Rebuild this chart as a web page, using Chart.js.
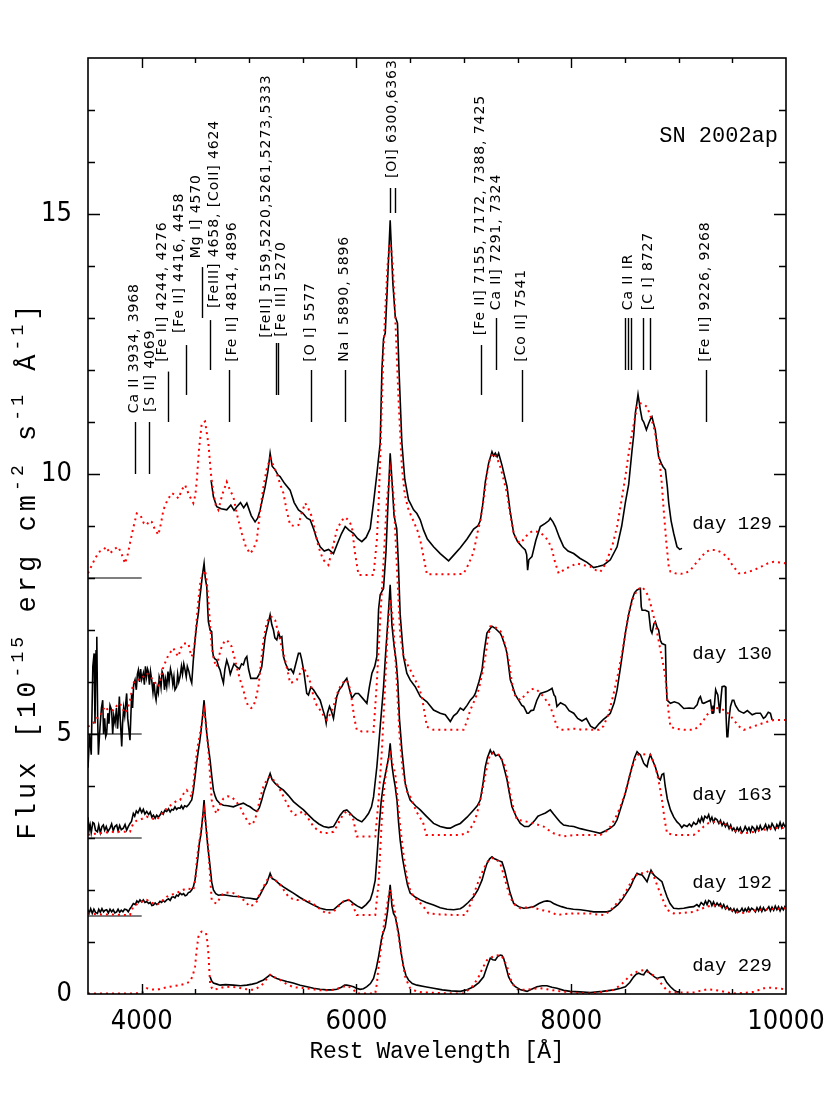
<!DOCTYPE html>
<html>
<head>
<meta charset="utf-8">
<script src="https://cdn.jsdelivr.net/npm/chart.js@4.4.0/dist/chart.umd.min.js"></script>
<style>
  html, body { margin: 0; padding: 0; background: #fff; }
  #c { display: block; }
</style>
</head>
<body>
<canvas id="c" width="830" height="1106"></canvas>
<script>
// axis setup
const xRange = [3500, 10000];
const yRange = [0, 18];
const xTickLabels = [4000, 6000, 8000, 10000];
const yTickLabels = [0, 5, 10, 15];

// zero level of each shifted spectrum, drawn as a short bar on the left
const baselineOffsets = [8, 5, 3, 1.5];
const baselineSpan = [3500, 4000];

// [wavelength (A), plotted flux] -- observed spectra (black)
const obs129 = [[4646,9.88],[4668,9.56],[4699,9.37],[4740,9.33],[4792,9.31],[4830,9.40],[4860,9.30],[4886,9.37],[4920,9.45],[4950,9.35],[4979,9.44],[5020,9.20],[5056,9.08],[5080,9.15],[5103,9.31],[5150,9.76],[5175,10.05],[5196,10.40],[5215,10.15],[5243,10.08],[5270,9.98],[5289,9.95],[5330,9.82],[5382,9.69],[5420,9.45],[5460,9.31],[5500,9.25],[5540,9.15],[5569,9.12],[5600,8.95],[5630,8.75],[5662,8.60],[5700,8.52],[5740,8.55],[5786,8.47],[5820,8.65],[5860,8.85],[5895,8.99],[5930,8.92],[5972,8.86],[6010,8.76],[6050,8.70],[6090,8.78],[6128,8.95],[6159,9.45],[6190,10.0],[6221,10.6],[6237,12.0],[6252,12.6],[6268,12.71],[6289,13.67],[6314,14.88],[6339,13.67],[6361,13.03],[6382,12.90],[6395,12.06],[6423,10.6],[6450,9.9],[6485,9.5],[6501,9.44],[6532,9.31],[6563,9.24],[6594,9.12],[6625,8.92],[6660,8.75],[6718,8.60],[6780,8.47],[6858,8.33],[6910,8.45],[6967,8.58],[7030,8.75],[7091,8.94],[7130,9.0],[7153,9.10],[7175,9.4],[7200,9.85],[7230,10.2],[7262,10.43],[7277,10.35],[7293,10.40],[7310,10.33],[7324,10.40],[7355,10.17],[7402,9.76],[7430,9.3],[7464,8.86],[7500,8.70],[7541,8.60],[7572,8.54],[7585,8.45],[7594,8.15],[7605,8.35],[7634,8.41],[7670,8.72],[7712,8.99],[7758,9.05],[7790,9.10],[7805,9.15],[7830,9.08],[7852,8.99],[7890,8.78],[7929,8.60],[7970,8.52],[8023,8.47],[8080,8.38],[8147,8.30],[8209,8.20],[8250,8.22],[8302,8.25],[8364,8.35],[8427,8.60],[8470,9.0],[8504,9.45],[8535,9.8],[8566,10.45],[8582,10.75],[8597,11.17],[8610,11.35],[8622,11.53],[8644,11.23],[8660,11.05],[8675,11.0],[8700,10.85],[8721,10.97],[8737,11.05],[8752,11.10],[8770,10.95],[8783,10.85],[8800,10.55],[8814,10.33],[8840,10.2],[8855,10.14],[8877,10.08],[8895,9.75],[8908,9.44],[8930,9.1],[8954,8.86],[8985,8.60],[9010,8.55],[9032,8.57]];

const obs130 = [[3500,4.35],[3515,5.0],[3530,4.6],[3545,6.3],[3557,6.55],[3565,5.2],[3575,6.6],[3582,6.87],[3590,5.3],[3597,4.6],[3605,4.9],[3612,5.14],[3625,5.5],[3637,5.65],[3645,5.0],[3655,5.3],[3665,4.95],[3674,5.01],[3685,5.4],[3695,5.2],[3705,5.55],[3720,5.46],[3730,5.0],[3740,5.35],[3752,5.21],[3765,5.5],[3775,5.1],[3785,5.4],[3792,5.72],[3800,5.3],[3808,5.0],[3814,4.76],[3822,5.2],[3832,5.5],[3842,5.35],[3852,5.6],[3860,5.78],[3870,5.3],[3880,5.1],[3891,4.88],[3900,5.4],[3907,5.78],[3915,5.5],[3925,5.95],[3938,6.04],[3950,5.85],[3960,6.15],[3969,6.23],[3980,6.0],[3990,6.25],[4000,6.05],[4015,6.17],[4025,5.95],[4035,6.3],[4045,6.1],[4055,6.25],[4062,6.2],[4072,5.95],[4082,6.2],[4093,6.04],[4105,5.8],[4115,6.0],[4125,5.75],[4134,5.65],[4145,5.9],[4155,5.8],[4163,6.1],[4171,6.04],[4180,5.9],[4190,6.2],[4202,6.13],[4212,5.85],[4222,6.05],[4233,5.91],[4245,6.2],[4255,6.0],[4268,6.25],[4280,6.13],[4290,5.95],[4300,6.1],[4310,5.85],[4326,5.91],[4335,6.15],[4345,6.0],[4357,6.10],[4370,6.3],[4380,6.15],[4392,6.35],[4404,6.23],[4415,6.1],[4425,6.3],[4440,6.2],[4455,6.05],[4466,5.98],[4480,6.4],[4497,6.81],[4512,7.1],[4528,7.32],[4540,7.6],[4550,7.77],[4565,8.05],[4581,8.28],[4592,8.0],[4606,7.83],[4615,7.4],[4621,7.16],[4637,7.0],[4652,6.97],[4660,6.6],[4668,6.49],[4680,6.45],[4699,6.42],[4715,6.3],[4730,6.23],[4745,6.1],[4761,5.98],[4775,6.25],[4792,6.42],[4810,6.3],[4825,6.15],[4838,6.23],[4860,6.35],[4885,6.29],[4910,6.25],[4930,6.35],[4947,6.33],[4965,6.45],[4979,6.49],[4995,6.25],[5016,6.07],[5045,6.07],[5072,6.07],[5095,6.15],[5118,6.29],[5135,6.6],[5150,6.87],[5170,7.05],[5196,7.29],[5212,7.1],[5227,7.0],[5240,6.85],[5258,6.81],[5275,6.95],[5290,6.85],[5305,6.87],[5320,6.49],[5340,6.35],[5367,6.23],[5390,6.25],[5413,6.17],[5435,6.35],[5460,6.55],[5476,6.55],[5491,6.42],[5510,6.2],[5537,5.78],[5553,5.75],[5575,5.9],[5600,5.85],[5630,5.75],[5662,5.65],[5690,5.45],[5708,5.33],[5718,5.21],[5730,5.4],[5749,5.53],[5765,5.45],[5786,5.30],[5800,5.5],[5817,5.72],[5840,5.85],[5864,5.91],[5885,6.0],[5910,6.07],[5930,5.9],[5957,5.69],[5990,5.78],[6019,5.78],[6060,5.68],[6097,5.59],[6120,5.9],[6144,6.17],[6170,6.3],[6190,6.49],[6206,7.4],[6221,7.68],[6252,7.8],[6275,8.5],[6295,9.5],[6314,10.4],[6330,9.9],[6350,9.2],[6375,8.95],[6390,8.3],[6407,7.3],[6438,6.49],[6469,6.17],[6500,6.04],[6547,5.91],[6594,5.72],[6656,5.62],[6718,5.46],[6780,5.40],[6827,5.37],[6874,5.24],[6905,5.35],[6936,5.40],[6967,5.5],[6997,5.46],[7030,5.55],[7060,5.65],[7091,5.72],[7107,5.78],[7140,6.0],[7169,6.23],[7190,6.6],[7215,6.94],[7246,7.03],[7262,7.07],[7293,7.03],[7308,7.0],[7339,6.94],[7355,6.87],[7386,6.68],[7402,6.55],[7433,6.04],[7448,5.95],[7480,5.75],[7510,5.65],[7540,5.55],[7557,5.53],[7588,5.40],[7603,5.40],[7625,5.45],[7650,5.46],[7680,5.65],[7712,5.78],[7740,5.80],[7774,5.82],[7800,5.85],[7821,5.88],[7840,5.75],[7852,5.72],[7867,5.53],[7900,5.6],[7945,5.55],[7980,5.45],[8023,5.40],[8060,5.30],[8100,5.25],[8140,5.30],[8180,5.15],[8220,5.10],[8260,5.20],[8300,5.28],[8340,5.35],[8364,5.40],[8400,5.6],[8427,5.85],[8460,6.3],[8504,6.94],[8535,7.3],[8566,7.58],[8590,7.72],[8613,7.77],[8644,7.80],[8652,7.45],[8660,7.38],[8690,7.38],[8721,7.35],[8740,7.0],[8752,6.94],[8770,7.12],[8783,7.16],[8800,7.05],[8814,7.0],[8830,6.8],[8845,6.74],[8877,6.71],[8885,6.0],[8892,5.65],[8924,5.59],[8960,5.62],[9001,5.59],[9048,5.49],[9100,5.50],[9141,5.49],[9172,5.56],[9190,5.68],[9203,5.72],[9220,5.6],[9234,5.59],[9265,5.62],[9296,5.65],[9312,5.40],[9320,5.55],[9327,5.40],[9345,5.85],[9352,5.81],[9365,5.75],[9383,5.40],[9395,5.7],[9405,5.91],[9425,5.92],[9436,5.91],[9441,5.4],[9450,4.95],[9458,4.95],[9470,5.3],[9483,5.53],[9500,5.65],[9514,5.65],[9530,5.55],[9560,5.45],[9585,5.42],[9607,5.40],[9640,5.45],[9685,5.37],[9720,5.40],[9762,5.40],[9790,5.30],[9808,5.33],[9835,5.42],[9855,5.40],[9871,5.27]];

const obs163 = [[3500,3.40],[3510,3.15],[3520,3.25],[3530,3.1],[3545,3.3],[3557,3.28],[3570,3.15],[3588,3.12],[3600,3.25],[3615,3.1],[3630,3.22],[3643,3.25],[3655,3.15],[3670,3.22],[3685,3.12],[3705,3.19],[3720,3.27],[3735,3.14],[3750,3.22],[3767,3.25],[3780,3.14],[3795,3.24],[3810,3.16],[3829,3.19],[3845,3.26],[3860,3.15],[3875,3.22],[3891,3.28],[3905,3.32],[3922,3.47],[3935,3.42],[3950,3.52],[3965,3.48],[3984,3.57],[4000,3.49],[4015,3.55],[4030,3.46],[4047,3.51],[4065,3.45],[4080,3.50],[4095,3.40],[4109,3.44],[4125,3.38],[4140,3.44],[4155,3.40],[4171,3.44],[4185,3.5],[4200,3.46],[4215,3.53],[4233,3.51],[4250,3.56],[4265,3.5],[4280,3.55],[4295,3.54],[4310,3.6],[4325,3.55],[4340,3.58],[4357,3.57],[4370,3.62],[4385,3.56],[4400,3.62],[4419,3.60],[4440,3.65],[4455,3.7],[4466,3.73],[4480,3.9],[4497,4.18],[4512,4.45],[4528,4.69],[4540,4.85],[4550,5.01],[4565,5.3],[4581,5.65],[4592,5.35],[4606,5.01],[4621,4.75],[4637,4.5],[4652,4.2],[4668,3.92],[4685,3.8],[4699,3.73],[4730,3.66],[4761,3.63],[4800,3.62],[4854,3.60],[4900,3.64],[4947,3.67],[4980,3.63],[5009,3.60],[5040,3.55],[5072,3.51],[5095,3.58],[5118,3.73],[5140,3.9],[5165,4.05],[5180,4.15],[5196,4.24],[5215,4.12],[5243,4.05],[5280,3.98],[5320,3.92],[5365,3.82],[5413,3.70],[5460,3.62],[5507,3.54],[5550,3.45],[5600,3.35],[5650,3.27],[5693,3.22],[5740,3.2],[5786,3.22],[5815,3.32],[5848,3.44],[5880,3.52],[5910,3.54],[5940,3.48],[5972,3.41],[6010,3.35],[6050,3.31],[6080,3.38],[6112,3.47],[6140,3.6],[6159,3.79],[6190,4.37],[6221,5.14],[6252,5.9],[6270,6.5],[6290,7.1],[6314,7.87],[6330,7.1],[6350,6.7],[6370,6.4],[6385,6.0],[6400,5.3],[6423,4.69],[6454,4.05],[6480,3.85],[6500,3.73],[6550,3.62],[6594,3.54],[6650,3.42],[6718,3.28],[6780,3.22],[6843,3.19],[6874,3.19],[6920,3.24],[6967,3.28],[7030,3.40],[7091,3.54],[7125,3.62],[7153,3.73],[7175,4.0],[7200,4.37],[7220,4.55],[7246,4.69],[7262,4.62],[7277,4.66],[7295,4.58],[7324,4.60],[7340,4.55],[7355,4.50],[7380,4.3],[7402,4.12],[7425,3.85],[7448,3.60],[7490,3.4],[7526,3.28],[7565,3.22],[7603,3.22],[7635,3.28],[7665,3.35],[7690,3.42],[7712,3.44],[7760,3.48],[7805,3.54],[7835,3.46],[7867,3.38],[7900,3.3],[7929,3.25],[7980,3.23],[8023,3.22],[8085,3.18],[8147,3.15],[8210,3.12],[8271,3.09],[8320,3.14],[8364,3.19],[8400,3.25],[8427,3.35],[8465,3.6],[8504,3.86],[8535,4.12],[8566,4.37],[8590,4.55],[8613,4.66],[8630,4.62],[8644,4.60],[8660,4.52],[8675,4.44],[8690,4.40],[8706,4.37],[8720,4.5],[8737,4.60],[8760,4.48],[8783,4.37],[8800,4.25],[8815,4.15],[8830,4.12],[8845,4.22],[8861,4.24],[8875,4.0],[8895,3.75],[8924,3.54],[8955,3.4],[8985,3.31],[9010,3.26],[9030,3.2],[9050,3.25],[9079,3.22],[9100,3.27],[9120,3.22],[9140,3.30],[9160,3.26],[9172,3.28],[9185,3.36],[9200,3.30],[9215,3.40],[9230,3.32],[9245,3.42],[9265,3.38],[9280,3.45],[9295,3.33],[9310,3.40],[9325,3.30],[9340,3.38],[9358,3.35],[9375,3.28],[9390,3.34],[9405,3.24],[9420,3.30],[9436,3.22],[9452,3.28],[9470,3.18],[9485,3.25],[9500,3.15],[9514,3.19],[9530,3.12],[9545,3.2],[9560,3.14],[9575,3.2],[9590,3.1],[9607,3.15],[9620,3.22],[9640,3.14],[9655,3.2],[9670,3.12],[9685,3.22],[9700,3.19],[9715,3.12],[9730,3.22],[9745,3.15],[9760,3.24],[9775,3.16],[9793,3.19],[9810,3.26],[9825,3.16],[9840,3.24],[9855,3.18],[9870,3.28],[9886,3.22],[9900,3.16],[9915,3.26],[9930,3.2],[9945,3.3],[9960,3.2],[9975,3.28],[9990,3.22],[10000,3.25]];

const obs192 = [[3500,1.62],[3512,1.56],[3525,1.64],[3540,1.55],[3555,1.63],[3570,1.57],[3588,1.55],[3600,1.63],[3615,1.57],[3630,1.64],[3645,1.58],[3660,1.61],[3674,1.62],[3690,1.56],[3705,1.63],[3720,1.58],[3735,1.62],[3750,1.56],[3767,1.58],[3780,1.63],[3795,1.57],[3810,1.61],[3825,1.58],[3840,1.63],[3860,1.62],[3875,1.58],[3891,1.64],[3905,1.68],[3922,1.74],[3940,1.72],[3955,1.79],[3970,1.76],[3984,1.81],[4000,1.77],[4015,1.81],[4030,1.76],[4047,1.78],[4065,1.74],[4080,1.76],[4095,1.70],[4109,1.71],[4125,1.75],[4140,1.72],[4155,1.74],[4170,1.78],[4185,1.76],[4200,1.8],[4215,1.77],[4233,1.81],[4250,1.83],[4265,1.8],[4280,1.86],[4295,1.87],[4310,1.85],[4325,1.9],[4340,1.88],[4357,1.94],[4375,1.91],[4390,1.93],[4405,1.89],[4419,1.90],[4435,1.95],[4450,1.96],[4465,2.0],[4481,2.06],[4497,2.2],[4513,2.45],[4525,2.65],[4537,2.90],[4550,3.05],[4559,3.22],[4572,3.5],[4581,3.73],[4590,3.45],[4599,3.22],[4615,2.85],[4637,2.45],[4652,2.15],[4668,2.0],[4690,1.93],[4714,1.90],[4750,1.91],[4792,1.90],[4850,1.88],[4916,1.87],[4960,1.85],[5009,1.84],[5040,1.83],[5072,1.82],[5095,1.88],[5118,1.97],[5140,2.06],[5165,2.13],[5180,2.22],[5196,2.32],[5215,2.22],[5243,2.19],[5280,2.12],[5320,2.06],[5365,2.0],[5413,1.94],[5470,1.86],[5537,1.78],[5600,1.71],[5662,1.65],[5720,1.62],[5786,1.62],[5830,1.70],[5879,1.78],[5926,1.81],[5950,1.78],[5972,1.74],[6010,1.69],[6050,1.65],[6090,1.72],[6128,1.81],[6150,1.95],[6175,2.19],[6190,2.6],[6206,3.09],[6230,3.7],[6252,4.05],[6283,4.37],[6300,4.55],[6314,4.82],[6330,4.4],[6345,4.18],[6360,4.0],[6377,3.73],[6392,3.3],[6407,2.96],[6430,2.6],[6454,2.32],[6475,2.1],[6500,1.94],[6550,1.86],[6594,1.81],[6650,1.76],[6718,1.71],[6780,1.66],[6843,1.63],[6905,1.62],[6967,1.64],[6997,1.68],[7040,1.76],[7091,1.87],[7130,2.0],[7169,2.19],[7195,2.38],[7215,2.51],[7240,2.60],[7262,2.64],[7285,2.6],[7308,2.58],[7330,2.56],[7355,2.54],[7380,2.38],[7402,2.19],[7430,1.95],[7464,1.74],[7510,1.68],[7557,1.65],[7600,1.66],[7650,1.68],[7700,1.74],[7743,1.78],[7775,1.79],[7805,1.78],[7835,1.74],[7867,1.71],[7910,1.68],[7960,1.65],[8020,1.63],[8085,1.62],[8150,1.60],[8209,1.58],[8270,1.58],[8333,1.58],[8365,1.6],[8395,1.65],[8435,1.72],[8473,1.81],[8510,1.93],[8551,2.06],[8580,2.2],[8613,2.32],[8635,2.30],[8660,2.29],[8685,2.22],[8706,2.16],[8725,2.28],[8743,2.38],[8765,2.3],[8783,2.26],[8810,2.22],[8845,2.16],[8870,2.0],[8892,1.87],[8920,1.74],[8954,1.65],[9000,1.64],[9048,1.65],[9100,1.67],[9141,1.68],[9170,1.72],[9190,1.68],[9210,1.76],[9234,1.71],[9250,1.79],[9265,1.72],[9280,1.8],[9296,1.78],[9310,1.70],[9325,1.77],[9340,1.69],[9358,1.75],[9375,1.70],[9390,1.74],[9405,1.66],[9420,1.72],[9436,1.64],[9452,1.69],[9470,1.62],[9483,1.65],[9500,1.59],[9515,1.64],[9530,1.57],[9545,1.63],[9560,1.58],[9576,1.60],[9590,1.65],[9605,1.58],[9620,1.64],[9635,1.59],[9650,1.66],[9665,1.6],[9680,1.65],[9700,1.62],[9715,1.58],[9730,1.66],[9745,1.6],[9760,1.67],[9775,1.59],[9790,1.66],[9805,1.6],[9824,1.63],[9840,1.68],[9855,1.6],[9870,1.67],[9885,1.61],[9900,1.69],[9915,1.62],[9930,1.68],[9945,1.6],[9960,1.67],[9975,1.62],[9990,1.68],[10000,1.65]];

const obs229 = [[4637,0.33],[4652,0.25],[4668,0.21],[4700,0.19],[4730,0.17],[4780,0.18],[4854,0.17],[4920,0.16],[4979,0.17],[5030,0.19],[5072,0.21],[5100,0.24],[5134,0.27],[5165,0.32],[5196,0.37],[5225,0.33],[5258,0.30],[5300,0.27],[5351,0.24],[5410,0.21],[5476,0.17],[5540,0.14],[5600,0.11],[5660,0.09],[5724,0.08],[5770,0.08],[5817,0.09],[5860,0.13],[5890,0.17],[5910,0.17],[5940,0.16],[5972,0.14],[6000,0.11],[6034,0.09],[6065,0.1],[6097,0.14],[6130,0.2],[6159,0.30],[6185,0.5],[6206,0.72],[6237,1.10],[6268,1.29],[6290,1.6],[6314,2.10],[6330,1.7],[6345,1.55],[6361,1.49],[6375,1.35],[6392,1.17],[6415,0.8],[6438,0.53],[6460,0.36],[6485,0.27],[6520,0.2],[6563,0.17],[6640,0.14],[6718,0.11],[6800,0.08],[6880,0.06],[6967,0.05],[7030,0.08],[7091,0.14],[7140,0.22],[7184,0.33],[7215,0.52],[7246,0.69],[7270,0.66],[7293,0.65],[7315,0.72],[7339,0.75],[7355,0.74],[7370,0.69],[7395,0.5],[7417,0.33],[7445,0.22],[7479,0.14],[7530,0.08],[7588,0.05],[7630,0.09],[7681,0.14],[7730,0.16],[7774,0.16],[7820,0.13],[7867,0.11],[7930,0.07],[7991,0.05],[8080,0.04],[8178,0.03],[8290,0.05],[8395,0.08],[8460,0.11],[8504,0.14],[8545,0.22],[8582,0.33],[8605,0.38],[8628,0.40],[8650,0.38],[8675,0.37],[8690,0.42],[8706,0.46],[8730,0.40],[8752,0.37],[8775,0.33],[8799,0.30],[8830,0.32],[8861,0.33],[8890,0.22],[8924,0.14],[8955,0.08],[8985,0.04],[9005,0.04]];

// model spectra (red dotted)
const mod129 = [[3500,8.09],[3560,8.35],[3600,8.5],[3643,8.54],[3670,8.6],[3705,8.47],[3740,8.55],[3782,8.60],[3815,8.45],[3845,8.28],[3870,8.45],[3891,8.67],[3920,8.95],[3954,9.24],[3990,9.20],[4020,9.05],[4047,9.02],[4070,9.10],[4093,9.08],[4120,8.95],[4155,8.83],[4180,9.05],[4202,9.31],[4240,9.50],[4280,9.63],[4310,9.60],[4342,9.53],[4375,9.70],[4404,9.79],[4440,9.60],[4481,9.44],[4500,9.6],[4513,9.88],[4535,10.5],[4559,10.97],[4590,11.01],[4621,10.59],[4645,10.0],[4668,9.63],[4690,9.40],[4714,9.31],[4750,9.6],[4792,9.85],[4820,9.70],[4854,9.56],[4890,9.2],[4932,8.86],[4970,8.6],[5009,8.47],[5040,8.55],[5072,8.73],[5100,9.25],[5134,9.76],[5165,10.1],[5196,10.3],[5230,10.15],[5258,10.01],[5290,9.80],[5320,9.63],[5350,9.3],[5382,9.02],[5420,9.0],[5460,9.02],[5490,9.25],[5522,9.44],[5550,9.35],[5584,9.18],[5615,8.9],[5646,8.60],[5690,8.35],[5739,8.25],[5780,8.6],[5817,8.92],[5860,9.1],[5895,9.17],[5930,9.1],[5957,8.99],[5985,8.5],[6019,8.06],[6100,8.06],[6159,8.06],[6190,8.73],[6206,9.4],[6221,10.3],[6237,11.4],[6252,12.4],[6268,13.15],[6289,13.99],[6308,14.44],[6325,14.3],[6339,13.99],[6361,13.03],[6392,11.42],[6423,10.14],[6450,9.6],[6485,9.31],[6530,9.1],[6570,8.9],[6594,8.73],[6630,8.35],[6656,8.07],[6720,8.07],[6800,8.07],[6900,8.07],[6997,8.08],[7040,8.25],[7091,8.50],[7130,8.9],[7153,9.1],[7184,9.5],[7215,10.0],[7246,10.33],[7277,10.40],[7310,10.3],[7339,10.14],[7370,9.9],[7402,9.63],[7430,9.25],[7464,8.86],[7495,8.72],[7526,8.67],[7560,8.75],[7603,8.86],[7640,8.9],[7681,8.89],[7720,8.86],[7758,8.79],[7790,8.7],[7821,8.54],[7850,8.3],[7883,8.09],[7920,8.14],[7960,8.19],[8000,8.23],[8054,8.28],[8110,8.25],[8178,8.22],[8230,8.15],[8271,8.12],[8300,8.2],[8333,8.35],[8380,8.6],[8427,8.99],[8465,9.45],[8504,9.95],[8535,10.4],[8566,10.78],[8590,11.05],[8613,11.29],[8644,11.36],[8675,11.34],[8706,11.29],[8740,11.1],[8768,10.91],[8790,10.7],[8814,10.40],[8840,9.9],[8861,9.31],[8885,8.7],[8908,8.22],[8924,8.12],[8970,8.09],[9020,8.08],[9060,8.09],[9110,8.15],[9160,8.28],[9203,8.38],[9250,8.50],[9300,8.54],[9343,8.54],[9390,8.50],[9452,8.41],[9500,8.25],[9560,8.09],[9620,8.10],[9700,8.15],[9770,8.22],[9830,8.28],[9886,8.31],[9940,8.30],[10000,8.28]];

const mod130 = [[3500,5.14],[3549,5.21],[3580,5.30],[3612,5.33],[3635,5.45],[3658,5.53],[3690,5.45],[3736,5.46],[3770,5.55],[3798,5.59],[3820,5.5],[3845,5.40],[3870,5.5],[3891,5.65],[3922,5.98],[3950,6.05],[3984,6.04],[4015,6.10],[4047,6.17],[4080,6.1],[4109,6.04],[4135,5.95],[4155,5.91],[4180,6.1],[4202,6.29],[4249,6.52],[4295,6.65],[4320,6.55],[4342,6.49],[4365,6.65],[4388,6.74],[4435,6.74],[4450,6.6],[4466,6.49],[4482,6.6],[4497,6.81],[4512,7.2],[4528,7.58],[4545,7.9],[4559,8.03],[4590,8.15],[4605,7.95],[4621,7.58],[4637,7.1],[4652,6.68],[4675,6.4],[4699,6.29],[4720,6.5],[4745,6.68],[4770,6.78],[4792,6.81],[4815,6.75],[4838,6.68],[4860,6.5],[4885,6.29],[4915,6.05],[4947,5.85],[4970,5.65],[4994,5.53],[5020,5.5],[5040,5.53],[5065,5.7],[5087,5.91],[5110,6.35],[5134,6.81],[5165,7.15],[5196,7.26],[5220,7.25],[5243,7.19],[5265,7.0],[5289,6.81],[5312,6.6],[5336,6.42],[5360,6.2],[5382,5.98],[5410,6.0],[5444,6.04],[5476,6.17],[5507,6.29],[5537,6.15],[5569,6.0],[5600,5.72],[5630,5.55],[5662,5.46],[5695,5.35],[5724,5.27],[5755,5.38],[5786,5.53],[5815,5.75],[5848,5.91],[5880,6.0],[5910,6.04],[5935,5.9],[5957,5.65],[5980,5.3],[6003,5.08],[6050,5.05],[6100,5.05],[6159,5.04],[6190,6.0],[6221,7.2],[6252,8.3],[6283,9.5],[6314,10.1],[6345,9.6],[6377,8.2],[6407,6.9],[6438,6.5],[6469,6.36],[6510,6.2],[6547,6.04],[6580,5.9],[6609,5.72],[6635,5.4],[6656,5.14],[6718,5.08],[6800,5.08],[6900,5.08],[6997,5.08],[7030,5.25],[7060,5.46],[7100,5.65],[7138,5.85],[7170,6.15],[7200,6.49],[7225,6.85],[7246,7.07],[7275,7.08],[7308,7.03],[7330,7.0],[7355,6.94],[7385,6.7],[7417,6.42],[7440,6.1],[7464,5.78],[7495,5.7],[7526,5.65],[7570,5.75],[7619,5.85],[7650,5.87],[7681,5.85],[7712,5.78],[7743,5.72],[7775,5.62],[7805,5.53],[7835,5.35],[7867,5.14],[7900,5.08],[7950,5.08],[8000,5.1],[8050,5.1],[8100,5.08],[8150,5.09],[8200,5.08],[8260,5.08],[8300,5.15],[8350,5.4],[8395,5.78],[8435,6.15],[8473,6.55],[8505,6.95],[8535,7.32],[8575,7.6],[8613,7.77],[8660,7.83],[8690,7.75],[8721,7.64],[8745,7.45],[8768,7.26],[8800,6.95],[8830,6.62],[8855,6.35],[8877,6.10],[8893,5.7],[8908,5.40],[8924,5.14],[8970,5.1],[9050,5.08],[9141,5.08],[9190,5.15],[9234,5.27],[9270,5.38],[9312,5.46],[9350,5.5],[9390,5.49],[9430,5.45],[9470,5.38],[9514,5.27],[9560,5.15],[9607,5.08],[9660,5.12],[9731,5.17],[9800,5.22],[9886,5.27],[9940,5.27],[10000,5.27]];

const mod163 = [[3500,3.06],[3560,3.08],[3612,3.09],[3680,3.11],[3736,3.12],[3800,3.12],[3860,3.12],[3891,3.12],[3905,3.2],[3922,3.28],[3950,3.33],[3984,3.35],[4015,3.38],[4047,3.41],[4090,3.38],[4140,3.35],[4170,3.42],[4202,3.51],[4250,3.6],[4295,3.67],[4330,3.72],[4357,3.73],[4390,3.85],[4419,3.92],[4445,3.85],[4466,3.79],[4480,4.0],[4497,4.37],[4520,4.75],[4544,5.01],[4565,5.3],[4581,5.46],[4600,5.15],[4621,4.69],[4637,4.2],[4652,3.73],[4675,3.55],[4699,3.47],[4730,3.65],[4761,3.76],[4800,3.8],[4838,3.79],[4880,3.7],[4916,3.60],[4950,3.45],[4979,3.35],[5000,3.28],[5025,3.25],[5050,3.33],[5072,3.47],[5100,3.75],[5134,3.99],[5165,4.12],[5196,4.18],[5225,4.12],[5258,4.05],[5300,3.88],[5351,3.67],[5390,3.52],[5429,3.44],[5470,3.48],[5507,3.51],[5550,3.38],[5600,3.22],[5650,3.13],[5693,3.09],[5740,3.1],[5786,3.12],[5815,3.22],[5848,3.35],[5880,3.47],[5910,3.51],[5940,3.45],[5972,3.35],[5990,3.15],[6003,3.03],[6100,3.03],[6175,3.03],[6206,3.73],[6237,4.69],[6268,6.0],[6290,7.0],[6314,7.6],[6340,7.2],[6370,6.2],[6400,5.0],[6430,4.3],[6469,3.9],[6500,3.8],[6560,3.5],[6620,3.3],[6650,3.06],[6750,3.06],[6850,3.06],[6967,3.06],[7029,3.09],[7060,3.18],[7091,3.28],[7120,3.45],[7153,3.73],[7185,4.05],[7215,4.37],[7240,4.58],[7262,4.63],[7295,4.62],[7324,4.60],[7355,4.5],[7386,4.37],[7410,4.12],[7433,3.83],[7465,3.55],[7495,3.35],[7557,3.33],[7650,3.28],[7743,3.22],[7790,3.15],[7836,3.09],[7929,3.03],[8000,3.05],[8085,3.06],[8180,3.06],[8271,3.06],[8320,3.12],[8364,3.22],[8410,3.38],[8458,3.60],[8500,3.85],[8535,4.12],[8565,4.35],[8597,4.53],[8620,4.6],[8644,4.60],[8690,4.61],[8737,4.60],[8770,4.45],[8799,4.24],[8825,3.98],[8845,3.73],[8870,3.35],[8892,3.09],[8954,3.06],[9050,3.06],[9141,3.06],[9190,3.14],[9234,3.22],[9280,3.29],[9327,3.31],[9375,3.3],[9420,3.28],[9470,3.22],[9514,3.15],[9560,3.11],[9607,3.09],[9680,3.11],[9762,3.15],[9830,3.17],[9886,3.19],[10000,3.19]];

const mod192 = [[3500,1.55],[3600,1.53],[3700,1.53],[3800,1.52],[3891,1.52],[3905,1.6],[3922,1.68],[3980,1.76],[4047,1.81],[4090,1.76],[4140,1.71],[4185,1.78],[4233,1.87],[4280,1.91],[4326,1.94],[4370,1.99],[4419,2.03],[4450,2.02],[4481,2.0],[4500,2.2],[4513,2.58],[4530,2.85],[4550,3.09],[4565,3.35],[4581,3.54],[4600,3.2],[4621,2.77],[4637,2.25],[4652,1.81],[4675,1.76],[4699,1.74],[4730,1.85],[4761,1.94],[4810,1.95],[4854,1.94],[4900,1.88],[4947,1.81],[4980,1.74],[5009,1.68],[5040,1.72],[5072,1.78],[5100,1.93],[5134,2.06],[5165,2.18],[5196,2.26],[5240,2.2],[5289,2.10],[5330,1.98],[5367,1.87],[5405,1.83],[5444,1.81],[5490,1.81],[5537,1.81],[5585,1.75],[5631,1.68],[5680,1.6],[5724,1.55],[5786,1.58],[5830,1.68],[5879,1.78],[5926,1.81],[5955,1.74],[5972,1.68],[5990,1.58],[6003,1.52],[6100,1.52],[6175,1.52],[6206,2.13],[6237,3.41],[6260,4.0],[6283,4.37],[6300,4.55],[6314,4.63],[6340,4.4],[6361,4.24],[6385,3.7],[6407,3.22],[6440,2.65],[6469,2.26],[6500,2.0],[6532,1.87],[6580,1.78],[6625,1.68],[6650,1.6],[6671,1.55],[6780,1.53],[6900,1.52],[7013,1.52],[7040,1.62],[7075,1.81],[7115,2.05],[7153,2.26],[7195,2.45],[7231,2.58],[7260,2.61],[7293,2.61],[7339,2.51],[7370,2.3],[7402,2.06],[7435,1.85],[7464,1.74],[7495,1.68],[7526,1.65],[7570,1.66],[7619,1.68],[7665,1.65],[7712,1.62],[7760,1.6],[7805,1.58],[7867,1.52],[7940,1.54],[8023,1.55],[8100,1.55],[8178,1.55],[8240,1.53],[8302,1.52],[8350,1.58],[8395,1.68],[8440,1.78],[8489,1.90],[8530,2.05],[8566,2.19],[8600,2.28],[8628,2.32],[8660,2.32],[8690,2.32],[8715,2.36],[8737,2.38],[8760,2.3],[8783,2.19],[8805,2.06],[8830,1.94],[8860,1.78],[8892,1.62],[8954,1.55],[9050,1.56],[9141,1.58],[9200,1.63],[9265,1.68],[9310,1.70],[9358,1.71],[9420,1.67],[9483,1.62],[9530,1.58],[9576,1.55],[9650,1.58],[9700,1.6],[9762,1.62],[9850,1.63],[9930,1.64],[10000,1.65]];

const mod229 = [[3500,0.01],[3700,0.01],[3900,0.01],[4000,0.02],[4047,0.11],[4090,0.09],[4140,0.08],[4190,0.11],[4233,0.13],[4290,0.15],[4357,0.17],[4410,0.2],[4450,0.24],[4475,0.35],[4497,0.53],[4512,0.85],[4528,1.10],[4545,1.18],[4559,1.20],[4580,1.19],[4599,1.17],[4612,1.0],[4621,0.78],[4630,0.45],[4637,0.21],[4652,0.12],[4668,0.08],[4710,0.1],[4761,0.13],[4820,0.14],[4885,0.13],[4930,0.11],[4979,0.09],[5040,0.08],[5080,0.12],[5118,0.17],[5160,0.28],[5196,0.37],[5240,0.32],[5289,0.27],[5350,0.19],[5413,0.13],[5475,0.12],[5537,0.11],[5600,0.09],[5662,0.07],[5720,0.07],[5786,0.08],[5850,0.12],[5910,0.16],[5940,0.13],[5972,0.08],[5990,0.04],[6003,0.01],[6100,0.01],[6175,0.01],[6190,0.2],[6206,0.53],[6237,1.03],[6260,1.4],[6283,1.68],[6300,1.9],[6314,2.01],[6335,1.8],[6361,1.55],[6385,1.2],[6407,0.91],[6430,0.6],[6454,0.33],[6480,0.2],[6500,0.11],[6560,0.05],[6625,0.03],[6750,0.02],[6900,0.01],[6997,0.01],[7035,0.07],[7075,0.14],[7105,0.22],[7138,0.33],[7175,0.5],[7215,0.65],[7250,0.70],[7277,0.72],[7310,0.74],[7339,0.75],[7370,0.68],[7402,0.53],[7425,0.36],[7448,0.21],[7480,0.12],[7510,0.08],[7588,0.08],[7650,0.1],[7712,0.11],[7775,0.09],[7836,0.07],[7900,0.05],[7960,0.04],[8070,0.02],[8178,0.01],[8290,0.04],[8395,0.08],[8458,0.17],[8500,0.25],[8535,0.33],[8575,0.39],[8613,0.43],[8645,0.45],[8675,0.46],[8705,0.43],[8737,0.40],[8770,0.35],[8799,0.30],[8830,0.22],[8861,0.14],[8892,0.07],[8924,0.03],[9000,0.03],[9070,0.03],[9141,0.03],[9200,0.06],[9265,0.09],[9330,0.08],[9390,0.06],[9450,0.03],[9514,0.01],[9600,0.02],[9700,0.04],[9750,0.08],[9793,0.11],[9850,0.12],[9917,0.11],[9960,0.1],[10000,0.08]];

// epoch labels: text, flux level of the label
const epochNames = ['day 129', 'day 130', 'day 163', 'day 192', 'day 229'];
const epochLabelFlux = [9.04, 6.54, 3.83, 2.13, 0.53];

// line identifications: text, marker wavelengths, marker flux range, label wavelength, label bottom flux
const lineIds = [
  ['Ca II 3934, 3968', [3934], 10.0, 11.0, 3934, 11.17],
  ['[S II] 4069', [4068], 10.0, 11.0, 4080, 11.19],
  ['[Fe II] 4244, 4276', [4243], 11.0, 11.97, 4190, 12.16],
  ['[Fe II] 4416, 4458', [4413], 11.52, 12.48, 4348, 12.71],
  ['Mg I] 4570', [4565], 13.0, 13.98, 4506, 14.15],
  ['[FeIII] 4658, [CoII] 4624', [4637], 12.0, 12.96, 4674, 13.19],
  ['[Fe II] 4814, 4896', [4814], 11.0, 12.0, 4847, 12.16],
  ['[FeII] 5159,5220,5261,5273,5333', [], 0, 0, 5165, 12.62],
  ['[Fe III] 5270', [5252, 5273], 11.52, 12.52, 5303, 12.64],
  ['[O I] 5577', [5575], 11.0, 12.0, 5569, 12.16],
  ['Na I 5890, 5896', [5895], 11.0, 12.0, 5886, 12.16],
  ['[OI] 6300,6363', [6308, 6361], 15.02, 15.5, 6338, 15.69],
  ['[Fe II] 7155, 7172, 7388, 7425', [7159], 11.52, 12.48, 7153, 12.67],
  ['Ca II] 7291, 7324', [7302], 12.0, 13.0, 7302, 13.15],
  ['[Co II] 7541', [7542], 11.0, 12.0, 7535, 12.16],
  ['Ca II IR', [8498, 8529, 8557], 12.0, 13.0, 8532, 13.15],
  ['[C I] 8727', [8669, 8731], 12.0, 13.0, 8719, 13.15],
  ['[Fe II] 9226, 9268', [9256], 11.0, 12.0, 9250, 12.16]
];

const objectName = 'SN 2002ap';

const narrow = "'Liberation Sans Narrow', 'DejaVu Sans Condensed', 'Liberation Sans', sans-serif";
const mono = "'Liberation Mono', 'DejaVu Sans Mono', monospace";

function toXY(pairs) {
  return pairs.map(p => ({ x: p[0], y: p[1] }));
}

const observed = [obs129, obs130, obs163, obs192, obs229];
const models = [mod129, mod130, mod163, mod192, mod229];

const datasets = [];
// models first so the dots sit on top of the black curves
models.forEach(m => datasets.push({
  data: toXY(m), borderColor: '#ff0000', borderWidth: 2, borderDash: [2, 4], borderCapStyle: 'butt'
}));
observed.forEach(o => datasets.push({
  data: toXY(o), borderColor: '#000000', borderWidth: 1.6
}));
baselineOffsets.forEach(b => datasets.push({
  data: baselineSpan.map(v => ({ x: v, y: b })), borderColor: '#000000', borderWidth: 1.2
}));

// inside tick marks on all four sides plus the frame
const framePlugin = {
  id: 'frame',
  afterDatasetsDraw(chart) {
    const { ctx, chartArea: a, scales: { x, y } } = chart;
    ctx.save();
    ctx.strokeStyle = '#000';
    ctx.lineWidth = 1.4;
    ctx.beginPath();
    for (let v = xRange[0] + 500; v < xRange[1]; v += 500) {
      const px = Math.round(x.getPixelForValue(v)) + 0.5;
      const len = v % 2000 === 0 ? 10 : 5;
      ctx.moveTo(px, a.bottom); ctx.lineTo(px, a.bottom - len);
      ctx.moveTo(px, a.top); ctx.lineTo(px, a.top + len);
    }
    for (let v = yRange[0] + 1; v < yRange[1]; v++) {
      const py = Math.round(y.getPixelForValue(v)) + 0.5;
      const len = v % 5 === 0 ? 12 : 7;
      ctx.moveTo(a.left, py); ctx.lineTo(a.left + len, py);
      ctx.moveTo(a.right, py); ctx.lineTo(a.right - len, py);
    }
    ctx.stroke();
    ctx.lineWidth = 1.6;
    ctx.strokeRect(a.left, a.top, a.right - a.left, a.bottom - a.top);
    ctx.restore();
  }
};

// draw text spread out (letter spacing) so that it spans the given length
function spreadText(ctx, parts, length) {
  let natural = 0, count = 0;
  parts.forEach(p => { ctx.font = p.font; natural += ctx.measureText(p.t).width; count += p.t.length; });
  const gap = (length - natural) / Math.max(count - 1, 1);
  let cx = -length / 2;
  ctx.textAlign = 'left';
  parts.forEach(p => {
    ctx.font = p.font;
    for (const ch of p.t) {
      ctx.fillText(ch, cx, p.dy);
      cx += ctx.measureText(ch).width + gap;
    }
  });
}

const textPlugin = {
  id: 'texts',
  afterDraw(chart) {
    const { ctx, chartArea: a, scales: { x, y } } = chart;
    ctx.save();
    ctx.fillStyle = '#000';
    ctx.strokeStyle = '#000';

    // line identification markers and labels
    ctx.lineWidth = 1.4;
    lineIds.forEach(([text, waves, f0, f1, lw, lf]) => {
      ctx.beginPath();
      waves.forEach(w => {
        const px = Math.round(x.getPixelForValue(w)) + 0.5;
        ctx.moveTo(px, y.getPixelForValue(f0));
        ctx.lineTo(px, y.getPixelForValue(f1));
      });
      ctx.stroke();
      ctx.save();
      ctx.translate(x.getPixelForValue(lw), y.getPixelForValue(lf));
      ctx.rotate(-Math.PI / 2);
      ctx.font = "14px 'DejaVu Sans', sans-serif";
      ctx.letterSpacing = '0.9px';
      ctx.textAlign = 'left';
      ctx.textBaseline = 'middle';
      ctx.fillText(text, 0, 0);
      ctx.restore();
    });

    // epoch labels
    ctx.font = "19px " + mono;
    ctx.textAlign = 'right';
    ctx.textBaseline = 'middle';
    epochNames.forEach((t, i) => ctx.fillText(t, a.right - 14, y.getPixelForValue(epochLabelFlux[i])));

    ctx.font = "22px " + mono;
    ctx.textBaseline = 'alphabetic';
    ctx.fillText(objectName, a.right - 8, a.top + 84);

    // axis titles
    ctx.textBaseline = 'middle';
    ctx.save();
    ctx.translate((a.left + a.right) / 2, a.bottom + 58);
    spreadText(ctx, [{ t: 'Rest Wavelength [\u00C5]', font: "23px " + mono, dy: 0 }], 255);
    ctx.restore();

    const big = "27px " + mono, small = "18px " + mono;
    const yParts = [
      { t: 'Flux [10', font: big, dy: 0 }, { t: '-15', font: small, dy: -10 },
      { t: ' erg cm', font: big, dy: 0 }, { t: '-2', font: small, dy: -10 },
      { t: ' s', font: big, dy: 0 }, { t: '-1', font: small, dy: -10 },
      { t: ' \u00C5', font: big, dy: 0 }, { t: '-1', font: small, dy: -10 },
      { t: ']', font: big, dy: 0 }
    ];
    ctx.save();
    ctx.translate(28, (a.top + a.bottom) / 2 + 46);
    ctx.rotate(-Math.PI / 2);
    spreadText(ctx, yParts, 535);
    ctx.restore();

    ctx.restore();
  }
};

new Chart(document.getElementById('c'), {
  type: 'line',
  data: { datasets },
  options: {
    responsive: false,
    animation: false,
    layout: { padding: { top: 58, right: 44, left: 0, bottom: 0 } },
    elements: { point: { radius: 0 }, line: { tension: 0, fill: false } },
    plugins: { legend: { display: false }, tooltip: { enabled: false } },
    scales: {
      x: {
        type: 'linear',
        min: xRange[0], max: xRange[1],
        afterFit(s) { s.height = 112; s.paddingLeft = 0; s.paddingRight = 0; },
        afterBuildTicks(s) { s.ticks = xTickLabels.map(v => ({ value: v })); },
        grid: { display: false, drawTicks: false },
        border: { display: false },
        ticks: { color: '#000', font: { family: narrow, size: 27 }, padding: 12, maxRotation: 0, autoSkip: false, callback: v => String(v) }
      },
      y: {
        type: 'linear',
        min: yRange[0], max: yRange[1],
        afterFit(s) { s.width = 88; s.paddingTop = 0; s.paddingBottom = 0; },
        afterBuildTicks(s) { s.ticks = yTickLabels.map(v => ({ value: v })); },
        grid: { display: false, drawTicks: false },
        border: { display: false },
        ticks: { color: '#000', font: { family: narrow, size: 27 }, padding: 16, autoSkip: false, callback: v => String(v) }
      }
    }
  },
  plugins: [framePlugin, textPlugin]
});
</script>
</body>
</html>
